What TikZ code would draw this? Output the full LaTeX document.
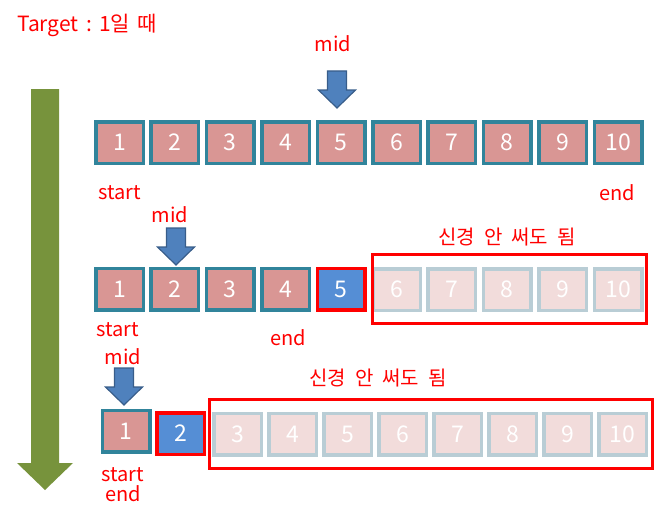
\documentclass[tikz,border=0pt]{standalone}
\usepackage{fontspec}
\setmainfont{Noto Sans CJK KR}
\definecolor{cellline}{HTML}{31849B}
\definecolor{cellfill}{HTML}{D99694}
\definecolor{hitfill}{HTML}{558ED5}
\definecolor{fadeline}{HTML}{B9CDD5}
\definecolor{fadefill}{HTML}{F2DCDB}
\definecolor{arrblue}{HTML}{4F81BD}
\definecolor{arrblueline}{HTML}{385D8A}
\definecolor{arrgreen}{HTML}{77933C}
\begin{document}
\begin{tikzpicture}[x=1pt,y=-1pt,
	cell/.style={rectangle,draw=cellline,line width=3.5pt,fill=cellfill,text=white,minimum width=47.5pt,minimum height=41.5pt,inner sep=0pt,font=\fontsize{23}{23}\selectfont},
	hitcell/.style={cell,draw=red,fill=hitfill},
	fadecell/.style={cell,draw=fadeline,fill=fadefill},
	lbl/.style={text=red,inner sep=0pt,font=\fontsize{20}{20}\selectfont}]
		\useasboundingbox (0,0) rectangle (669,511);
		
		\node[lbl,anchor=west,font=\fontsize{21}{21}\selectfont] (title) at (17,25) {Target\hspace{0.35em}:\hspace{0.35em}1일\hspace{0.35em}때};
		
		% draw green arrow
		\fill[arrgreen] (31,89) -- (59,89) -- (59,463) -- (73,463) -- (45,490) -- (17,463) -- (31,463) -- cycle;
		
		% draw row 1
		\foreach \i in {1,...,10}
		{
			\node[cell] (1-\i) at ({119.5+(\i-1)*55.4},142.5) {\i};
		}
		\node[lbl] (mid1) at (333,44) {mid};
		\node[lbl] (start1) at (120,193) {start};
		\node[lbl] (end1) at (617,193) {end};
		
		% draw row 2
		\foreach \i in {1,...,4}
		{
			\node[cell] (2-\i) at ({119.5+(\i-1)*55.4},289) {\i};
		}
		\node[hitcell] (2-5) at ({119.5+4*55.4},289) {5};
		\foreach \i in {6,...,10}
		{
			\node[fadecell] (2-\i) at ({119.5+(\i-1)*55.4},289.5) {\i};
		}
		\draw[red,line width=3pt] (372,254) rectangle (646,323);
		\node[lbl] (skip2) at (507,237) {신경\hspace{0.45em}안\hspace{0.45em}써도\hspace{0.45em}됨};
		\node[lbl] (mid2) at (170,215) {mid};
		\node[lbl] (start2) at (118,330) {start};
		\node[lbl] (end2) at (288,338) {end};
		
		% draw row 3
		\node[cell] (3-1) at (126,431) {1};
		\node[hitcell] (3-2) at (180.5,433.5) {2};
		\foreach \i in {3,...,10}
		{
			\node[fadecell] (3-\i) at ({237.5+(\i-3)*55},434) {\i};
		}
		\draw[red,line width=3pt] (209,399) rectangle (652,468);
		\node[lbl] (skip3) at (378,378) {신경\hspace{0.45em}안\hspace{0.45em}써도\hspace{0.45em}됨};
		\node[lbl] (mid3) at (123,357) {mid};
		\node[lbl] (start3) at (123,475) {start};
		\node[lbl] (end3) at (123,494) {end};
		
		% draw blue "mid" arrows
		\foreach \x/\y in {337/71,176/228,124/368}
		{
			\draw[fill=arrblue,draw=arrblueline,line width=1.2pt,line join=miter] ({\x-9.5},\y) -- ({\x+9.5},\y) -- ({\x+9.5},{\y+19}) -- ({\x+18.5},{\y+19}) -- (\x,{\y+37}) -- ({\x-18.5},{\y+19}) -- ({\x-9.5},{\y+19}) -- cycle;
		}
\end{tikzpicture}
\end{document}
